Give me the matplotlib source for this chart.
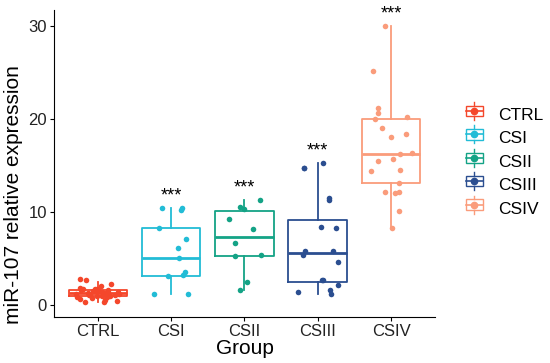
# ---------- miR-107 relative expression by group ----------

import numpy as np
import matplotlib
matplotlib.use("Agg")
import matplotlib.pyplot as plt
from matplotlib.legend_handler import HandlerBase
from matplotlib.patches import Rectangle
from matplotlib.lines import Line2D

plt.rcParams['font.family'] = ['Liberation Sans', 'DejaVu Sans']

# ---------- Data ----------

groups = ["CTRL", "CSI", "CSII", "CSIII", "CSIV"]
colors = ["#F4472B", "#22BCD6", "#14A386", "#2B4E90", "#FA9C7B"]

ctrl = [2.8, 2.75, 2.3, 2.1, 1.9, 1.8, 1.7, 1.7, 1.65, 1.6, 1.55, 1.5, 1.5, 1.45,
        1.4, 1.4, 1.35, 1.3, 1.3, 1.25, 1.2, 1.2, 1.15, 1.1, 1.05, 1.0, 1.0,
        0.95, 0.9, 0.85, 0.8, 0.7, 0.6, 0.5, 0.4, 0.3]
csi = [10.46, 10.46, 10.25, 8.32, 7.15, 6.19, 5.12, 3.52, 3.09, 3.2, 1.17, 1.17]
csii = [11.31, 10.6, 10.38, 9.32, 8.14, 6.65, 5.44, 5.26, 2.49, 1.6]
csiii = [15.23, 14.76, 14.7, 11.49, 11.28, 8.43, 8.29, 5.87, 5.8, 5.44, 4.66,
         2.74, 2.74, 2.17, 1.6, 1.25, 1.39]
csiv = [29.99, 25.15, 21.24, 20.6, 20.17, 20.03, 19.03, 18.11, 18.39, 16.4,
        16.25, 15.55, 15.76, 14.48, 14.41, 13.13, 12.2, 12.06, 12.2, 10.14, 8.29]
values = [ctrl, csi, csii, csiii, csiv]

# box statistics as drawn in the figure
q1 = [1.04, 3.1, 5.34, 2.45, 13.1]
med = [1.3, 5.1, 7.36, 5.58, 16.26]
q3 = [1.61, 8.3, 10.14, 9.14, 20.0]
whislo = [0.3, 1.17, 1.6, 1.25, 8.29]
whishi = [2.5, 10.46, 11.31, 15.23, 29.99]

stars = ["", "***", "***", "***", "***"]

# ---------- Plot ----------

fig = plt.figure(figsize=(5.5, 3.63), dpi=100)
ax = fig.add_axes([0.098, 0.127, 0.693, 0.845])

pos = np.arange(1, len(groups) + 1)
stats = []
for i in range(len(groups)):
    stats.append(dict(q1=q1[i], med=med[i], q3=q3[i],
                      whislo=whislo[i], whishi=whishi[i], fliers=[]))

for i, st in enumerate(stats):
    c = colors[i]
    ax.bxp([st], positions=[pos[i]], widths=0.8, showcaps=False,
           patch_artist=False,
           boxprops=dict(color=c, linewidth=1.3),
           medianprops=dict(color=c, linewidth=2.0),
           whiskerprops=dict(color=c, linewidth=1.3))

rng = np.random.default_rng(3)
for i, v in enumerate(values):
    jit = rng.uniform(-0.3, 0.3, len(v))
    ax.scatter(pos[i] + jit, v, s=16, color=colors[i], zorder=3, linewidths=0)

for i, s in enumerate(stars):
    if s:
        ax.text(pos[i], max(values[i]) + 0.4, s, ha="center", va="bottom",
                fontsize=13, color="black")

ax.set_xlim(0.4, 5.6)
ax.set_ylim(-1.25, 31.7)
ax.set_xticks(pos)
ax.set_xticklabels(groups)
ax.set_yticks([0, 10, 20, 30])
ax.tick_params(labelsize=12, colors="black", length=3, pad=2)
ax.tick_params(axis="x", labelcolor="#222222")
ax.tick_params(axis="y", labelcolor="#222222")
ax.set_xlabel("Group", fontsize=15, labelpad=0)
ax.set_ylabel("miR-107 relative expression", fontsize=15)
ax.yaxis.set_label_coords(-0.08, 0.40)
for side in ["top", "right"]:
    ax.spines[side].set_visible(False)


# ---------- Legend with boxplot keys ----------

class BoxKey(HandlerBase):
    def create_artists(self, legend, orig, xd, yd, w, h, fontsize, trans):
        c = orig.get_color()
        cx = xd + w / 2
        bw = w * 0.8
        bh = h * 0.7
        by = yd + (h - bh) / 2
        rect = Rectangle((cx - bw / 2, by), bw, bh, fill=False, edgecolor=c,
                         linewidth=1.0, transform=trans)
        mid = Line2D([cx - bw / 2, cx + bw / 2], [yd + h / 2] * 2, color=c,
                     linewidth=1.2, transform=trans)
        top = Line2D([cx, cx], [by + bh, yd + h * 1.1], color=c,
                     linewidth=1.0, transform=trans)
        bot = Line2D([cx, cx], [yd - h * 0.1, by], color=c,
                     linewidth=1.0, transform=trans)
        dot = Line2D([cx], [yd + h / 2], marker="o", markersize=4.5, color=c,
                     linestyle="none", transform=trans)
        return [rect, mid, top, bot, dot]


handles = [Line2D([], [], color=c) for c in colors]
fig.legend(handles, groups, handler_map={Line2D: BoxKey()},
           loc="center left", bbox_to_anchor=(0.815, 0.555), frameon=False,
           fontsize=12.5, handlelength=1.2, handleheight=0.95,
           handletextpad=0.75, labelspacing=0.4)

plt.savefig("out.png", dpi=100)
